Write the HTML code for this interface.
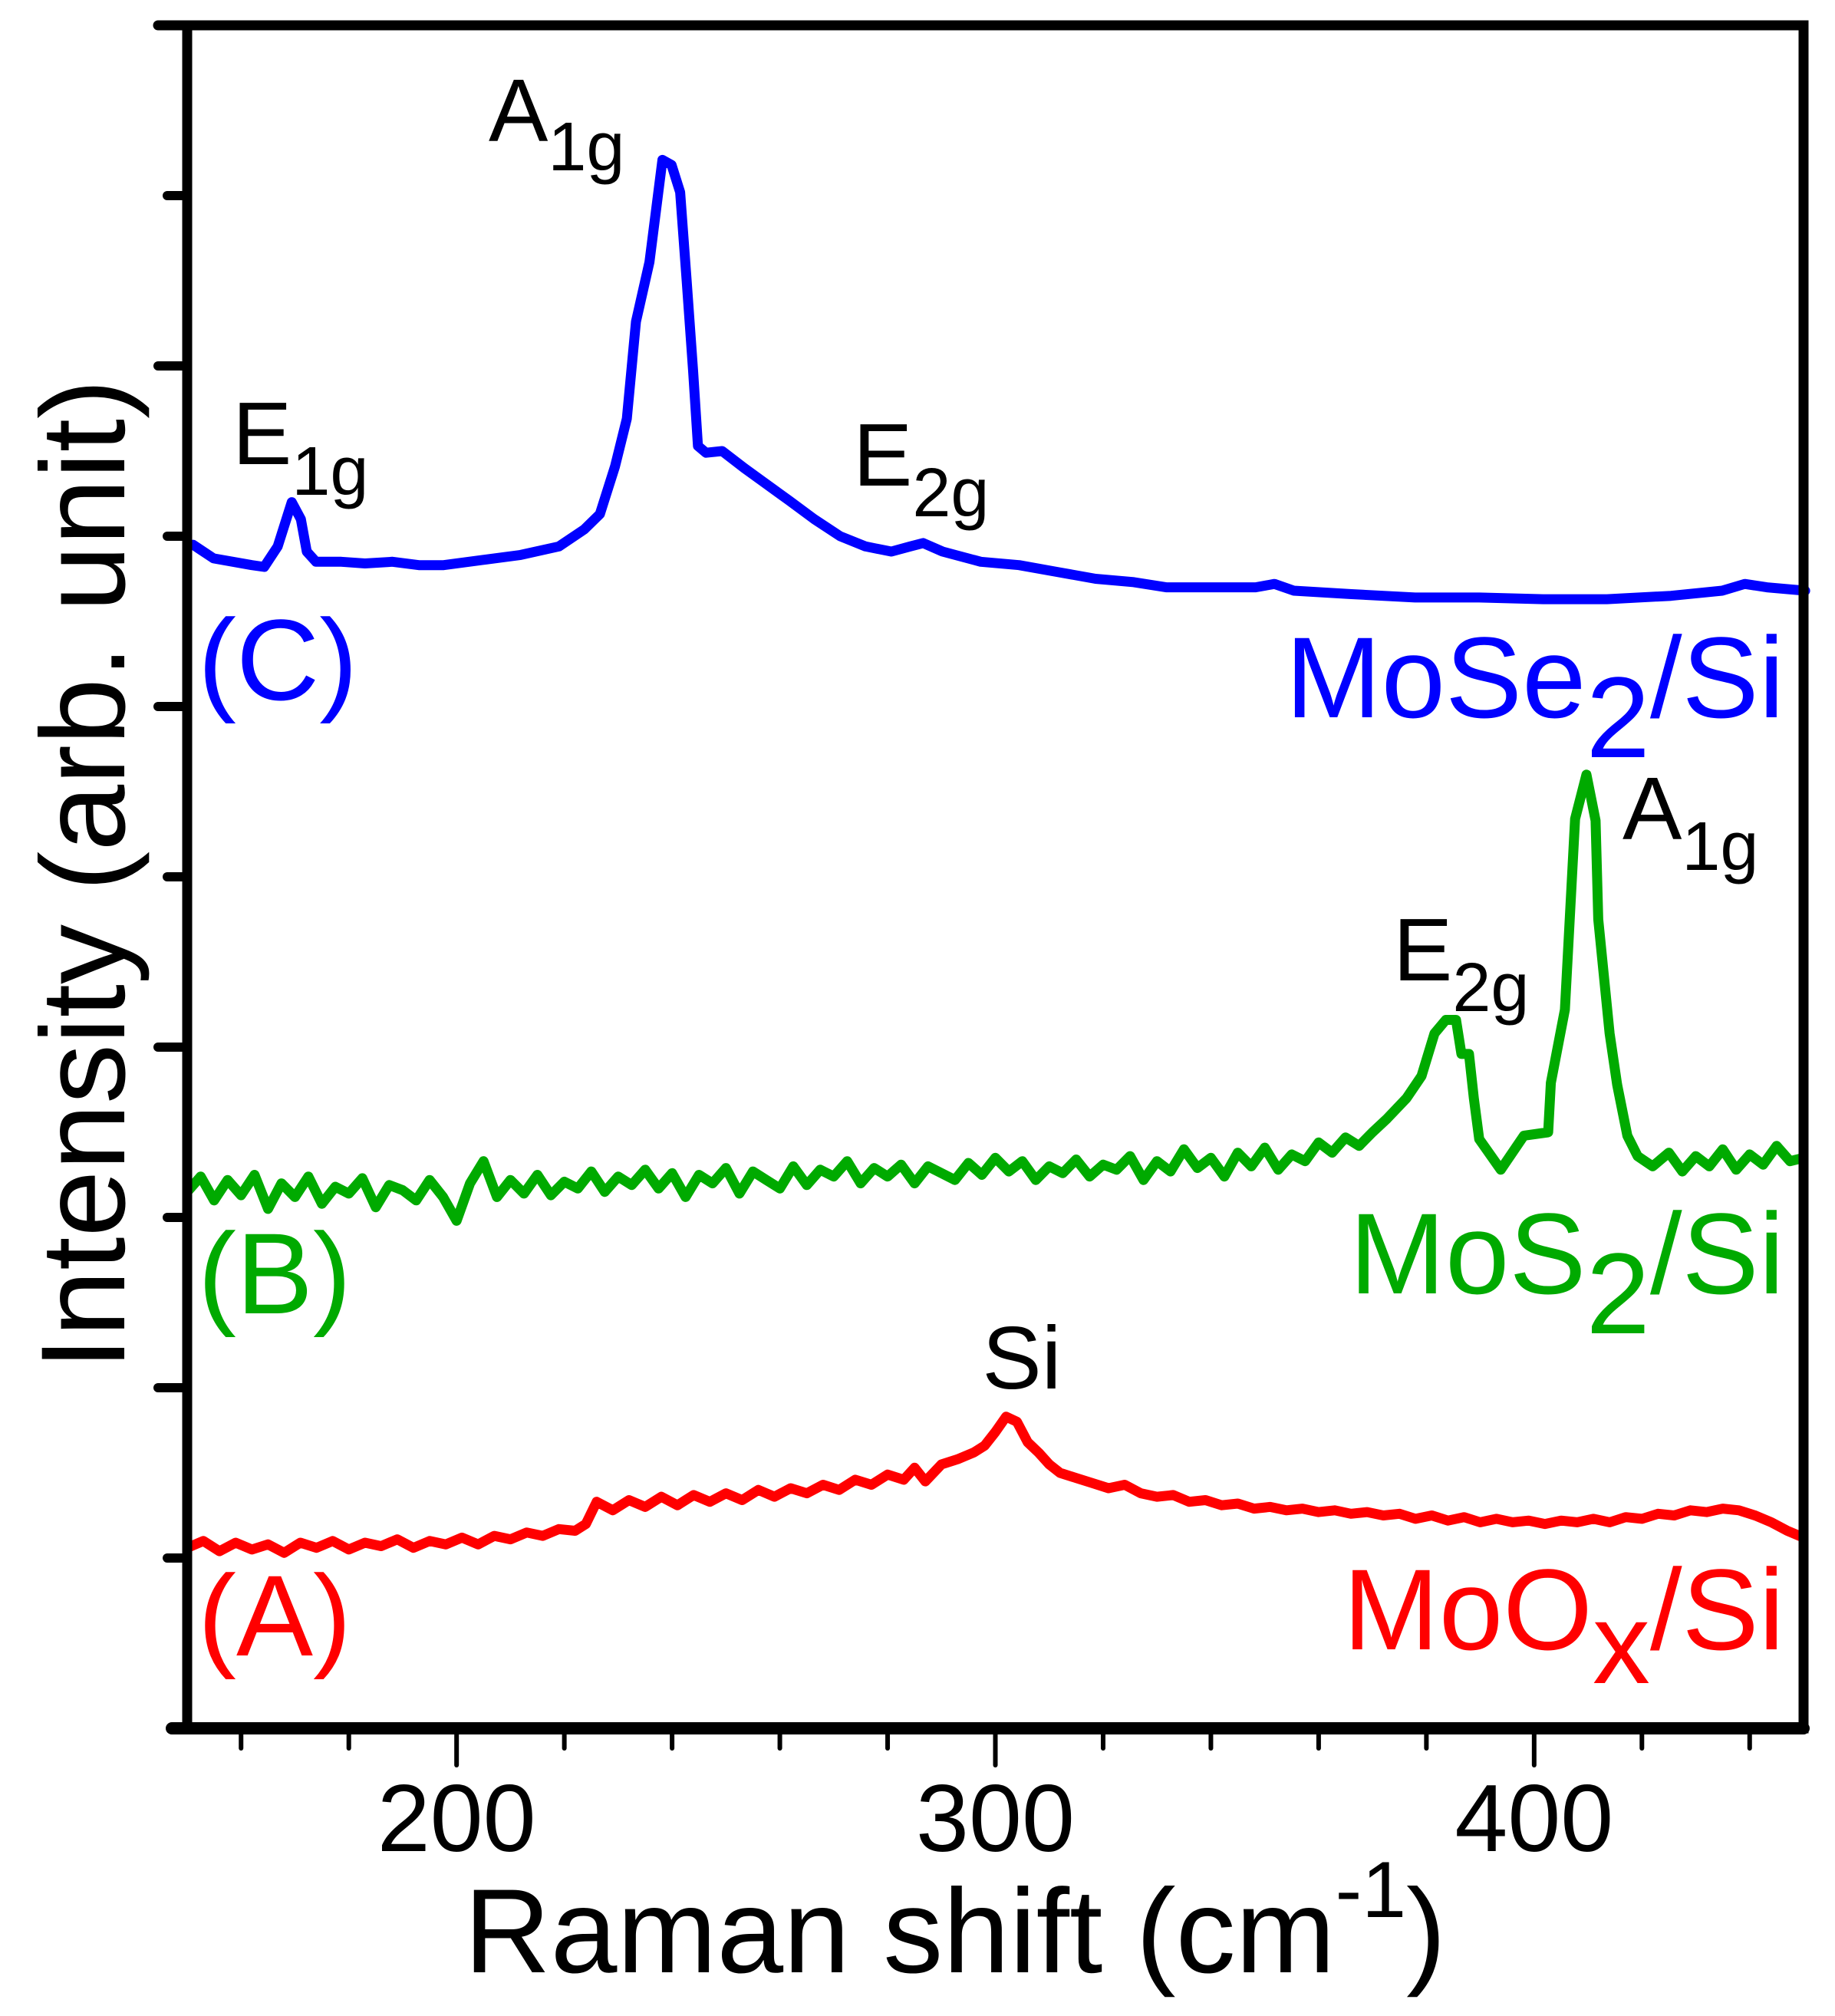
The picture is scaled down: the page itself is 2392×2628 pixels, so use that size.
<!DOCTYPE html>
<html><head><meta charset="utf-8"><style>
html,body{margin:0;padding:0;background:#fff;}
svg{display:block;font-family:"Liberation Sans",Arial,sans-serif;}
</style></head><body>
<svg id="chart" width="2392" height="2628" viewBox="0 0 2392 2628" xmlns="http://www.w3.org/2000/svg">
<g id="series"></g>
<g id="axes"></g>
<g fill="#000" font-size="116">
  <text x="637" y="184">A<tspan font-size="90" dy="38">1g</tspan></text>
  <text x="303" y="605">E<tspan font-size="90" dy="40">1g</tspan></text>
  <text x="1112" y="633">E<tspan font-size="90" dy="40">2g</tspan></text>
  <text x="1816" y="1278">E<tspan font-size="90" dy="40">2g</tspan></text>
  <text x="2115" y="1094">A<tspan font-size="90" dy="40">1g</tspan></text>
  <text x="1332" y="1810" text-anchor="middle">Si</text>
</g>
<g font-size="150">
  <text x="258" y="912" fill="#0000ff">(C)</text>
  <text x="2326" y="935" fill="#0000ff" text-anchor="end">MoSe<tspan dy="52">2</tspan><tspan dy="-52">/Si</tspan></text>
  <text x="258" y="1712" fill="#00aa00">(B)</text>
  <text x="2326" y="1686" fill="#00aa00" text-anchor="end">MoS<tspan dy="52">2</tspan><tspan dy="-52">/Si</tspan></text>
  <text x="258" y="2158" fill="#ff0000">(A)</text>
  <text x="2326" y="2150" fill="#ff0000" text-anchor="end">MoO<tspan dy="44">x</tspan><tspan dy="-44">/Si</tspan></text>
</g>
<text x="605" y="2571" font-size="156">Raman shift (cm<tspan font-size="104" dy="-72">-1</tspan><tspan dy="72">)</tspan></text>
<text transform="translate(162,1140) rotate(-90)" text-anchor="middle" font-size="156">Intensity (arb. unit)</text>
</svg>
<script>
// ---- data ----
const xTickValues = [200, 300, 400];
const xTickLabels = ["200", "300", "400"];
const xMinorTicks = [160,180,200,220,240,260,280,300,320,340,360,380,400,420,440];
const yTicks = [0,1,2,3,4,5,6,7,8,9];

const moSe2X = [151.1,154.9,162.0,164.3,166.8,169.4,171.1,172.2,173.9,178.6,183,188.1,193,197.6,204.7,211.9,219.0,223.7,226.6,229.4,231.6,233.3,235.8,238.2,239.9,241.5,242.7,243.9,244.8,246.3,249.3,253.4,256.9,261.7,266.4,271.2,275.9,280.7,284.2,286.6,290.2,297.3,304.4,311.5,318.6,325.7,331.7,340.0,348.3,351.8,355.4,366.1,377.9,389.8,401.7,413.5,425.4,434.9,439.1,443.2,450.3];
const moSe2Y = [6.95,6.87,6.83,6.82,6.94,7.20,7.10,6.91,6.85,6.85,6.84,6.85,6.83,6.83,6.86,6.89,6.94,7.04,7.13,7.41,7.69,8.26,8.61,9.21,9.18,9.02,8.50,7.97,7.53,7.49,7.50,7.40,7.32,7.21,7.10,7.00,6.94,6.91,6.94,6.96,6.91,6.85,6.83,6.79,6.75,6.73,6.70,6.70,6.70,6.72,6.68,6.66,6.64,6.64,6.63,6.63,6.65,6.68,6.72,6.70,6.68];

const moS2X = [150,152.5,155,157.5,160,162.5,165,167.5,170,172.5,175,177.5,180,182.5,185,187.5,190,192.5,195,197.5,200,202.5,205,207.5,210,212.5,215,217.5,220,222.5,225,227.5,230,232.5,235,237.5,240,242.5,245,247.5,250,252.5,255,257.5,260,262.5,265,267.5,270,272.5,275,277.5,280,282.5,285,287.5,290,292.5,295,297.5,300,302.5,305,307.5,310,312.5,315,317.5,320,322.5,325,327.5,330,332.5,335,337.5,340,342.5,345,347.5,350,352.5,355,357.5,360,362.5,365,367.5,370,372.7,376.3,379.1,381.5,383.6,385.5,386.5,387.9,388.8,389.8,393.8,398.1,402.6,403.1,405.7,407.6,409.7,411.4,411.9,414.0,415.4,417.3,419.2,422,425,427.5,430,432.5,435,437.5,440,442.5,445,447.5,450];
const moS2Y = [3.15,3.24,3.10,3.22,3.13,3.25,3.05,3.20,3.12,3.24,3.08,3.18,3.14,3.23,3.06,3.19,3.16,3.10,3.22,3.12,2.98,3.20,3.33,3.12,3.22,3.14,3.25,3.13,3.21,3.17,3.27,3.15,3.24,3.19,3.28,3.17,3.26,3.12,3.25,3.20,3.29,3.14,3.27,3.22,3.17,3.30,3.19,3.28,3.24,3.33,3.20,3.29,3.24,3.31,3.20,3.30,3.26,3.22,3.32,3.25,3.35,3.27,3.33,3.22,3.30,3.26,3.34,3.24,3.31,3.28,3.36,3.22,3.33,3.27,3.40,3.29,3.35,3.24,3.38,3.30,3.41,3.28,3.37,3.33,3.44,3.38,3.47,3.42,3.50,3.58,3.70,3.83,4.08,4.16,4.16,3.96,3.96,3.70,3.46,3.28,3.48,3.50,3.79,4.22,5.34,5.60,5.33,4.75,4.08,3.78,3.48,3.36,3.30,3.38,3.27,3.36,3.30,3.40,3.28,3.37,3.31,3.42,3.33,3.35];

const moOxX = [150,153,156,159,162,165,168,171,174,177,180,183,186,189,192,195,198,201,204,207,210,213,216,219,222,224,226,229,232,235,238,241,244,247,250,253,256,259,262,265,268,271,274,277,280,283,285,287,290,293,296,298,300,302,304,306,308,310,312,315,318,321,324,327,330,333,336,339,342,345,348,351,354,357,360,363,366,369,372,375,378,381,384,387,390,393,396,399,402,405,408,411,414,417,420,423,426,429,432,435,438,441,444,447,450];
const moOxY = [1.06,1.10,1.04,1.09,1.05,1.08,1.03,1.09,1.06,1.10,1.05,1.09,1.07,1.11,1.06,1.10,1.08,1.12,1.08,1.13,1.11,1.15,1.13,1.17,1.16,1.20,1.33,1.28,1.34,1.30,1.36,1.31,1.37,1.33,1.38,1.34,1.40,1.36,1.41,1.38,1.43,1.40,1.46,1.43,1.49,1.46,1.53,1.45,1.55,1.58,1.62,1.66,1.74,1.83,1.80,1.68,1.62,1.55,1.50,1.47,1.44,1.41,1.43,1.38,1.36,1.37,1.33,1.34,1.31,1.32,1.29,1.30,1.28,1.29,1.27,1.28,1.26,1.27,1.25,1.26,1.23,1.25,1.22,1.24,1.21,1.23,1.21,1.22,1.20,1.22,1.21,1.23,1.21,1.24,1.23,1.26,1.25,1.28,1.27,1.29,1.28,1.25,1.21,1.16,1.12];

// ---- axes functions ----
const X0 = 244, X1 = 2351, Y0 = 2253, Y1 = 33;
const xMin = 150, xMax = 450, yMin = 0, yMax = 10;
function sx(v){ return X0 + (v - xMin) * (X1 - X0) / (xMax - xMin); }
function sy(v){ return Y0 - (v - yMin) * (Y0 - Y1) / (yMax - yMin); }
const NS = "http://www.w3.org/2000/svg";
const seriesG = document.getElementById('series');
const axesG = document.getElementById('axes');

function drawSeries(xs, ys, color, name){
  let d = '';
  for (let i = 0; i < xs.length; i++){
    d += (i ? 'L' : 'M') + sx(xs[i]).toFixed(1) + ' ' + sy(ys[i]).toFixed(1);
  }
  const p = document.createElementNS(NS, 'path');
  p.setAttribute('d', d);
  p.setAttribute('fill', 'none');
  p.setAttribute('stroke', color);
  p.setAttribute('stroke-width', '13');
  p.setAttribute('stroke-linejoin', 'round');
  p.setAttribute('stroke-linecap', 'round');
  
  
  seriesG.appendChild(p);
}
drawSeries(moOxX, moOxY, '#ff0000', 'moox-spectrum');
drawSeries(moS2X, moS2Y, '#00aa00', 'mos2-spectrum');
drawSeries(moSe2X, moSe2Y, '#0000ff', 'mose2-spectrum');

function line(x1,y1,x2,y2,w){
  const l = document.createElementNS(NS, 'line');
  l.setAttribute('x1', x1); l.setAttribute('y1', y1);
  l.setAttribute('x2', x2); l.setAttribute('y2', y2);
  l.setAttribute('stroke', '#000');
  l.setAttribute('stroke-width', w);
  l.setAttribute('stroke-linecap', 'round');
  axesG.appendChild(l);
  return l;
}
const fr = document.createElementNS(NS, 'rect');
fr.setAttribute('x', X0); fr.setAttribute('y', Y1);
fr.setAttribute('width', X1 - X0); fr.setAttribute('height', Y0 - Y1);
fr.setAttribute('fill', 'none'); fr.setAttribute('stroke', '#000'); fr.setAttribute('stroke-width', '13');


axesG.appendChild(fr);
const bx = line(X0 - 20, Y0, X1, Y0, 16);


const tx = line(X0 - 38, Y1, X1, Y1, 13);



xMinorTicks.forEach(v => {
  const major = xTickValues.indexOf(v) >= 0;
  const t = line(sx(v), Y0, sx(v), Y0 + (major ? 48 : 26), 6);
  
  
});
xTickValues.forEach((v, i) => {
  const t = document.createElementNS(NS, 'text');
  t.setAttribute('x', sx(v)); t.setAttribute('y', 2413);
  t.setAttribute('text-anchor', 'middle'); t.setAttribute('font-size', '124');
  t.textContent = xTickLabels[i];
  
  
  axesG.appendChild(t);
});
yTicks.forEach(v => {
  if (v === 0) return;
  const major = v % 2 === 0;
  const t = line(X0 - (major ? 38 : 26), sy(v), X0, sy(v), 12);
  
  
});
</script>
</body></html>
